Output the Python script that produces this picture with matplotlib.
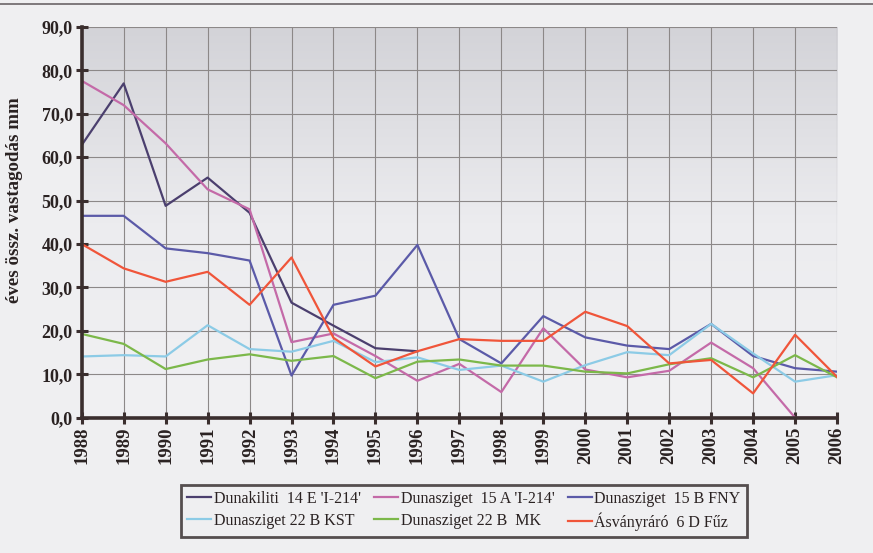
import numpy as np
import matplotlib
matplotlib.use("Agg")
import matplotlib.pyplot as plt

years = list(range(1988, 2007))
nan = np.nan

dunakiliti_14e = [62.8, 77.0, 48.8, 55.3, 47.2, 26.5, 21.2, 16.0, 15.3,
                  nan, nan, nan, nan, nan, nan, nan, nan, nan, nan]
dunasziget_15a = [77.6, 72.0, 63.2, 52.6, 48.0, 17.4, 19.4, 14.2, 8.5,
                  12.4, 5.9, 20.6, 11.1, 9.3, 10.8, 17.3, 11.4, 0.0, 0.0]
dunasziget_15b = [46.5, 46.5, 39.0, 37.9, 36.2, 9.7, 26.0, 28.1, 39.8,
                  18.1, 12.5, 23.4, 18.5, 16.6, 15.8, 21.6, 14.2, 11.4, 10.6]
dunasziget_22b_kst = [14.1, 14.4, 14.1, 21.3, 15.8, 15.2, 17.7, 12.8, 13.9,
                      11.0, 12.0, 8.3, 12.1, 15.1, 14.4, 21.6, 14.8, 8.3, 9.8]
dunasziget_22b_mk = [19.3, 17.0, 11.2, 13.4, 14.6, 13.1, 14.2, 9.1, 12.9,
                     13.4, 12.0, 12.0, 10.6, 10.2, 12.3, 13.7, 9.3, 14.4, 9.3]
asvanyraro_6d = [40.0, 34.4, 31.3, 33.6, 26.0, 36.9, 18.4, 11.8, 15.3,
                 18.1, 17.7, 17.7, 24.4, 21.1, 12.5, 13.3, 5.6, 19.1, 9.4]

series_names = ["Dunakiliti  14 E 'I-214'", "Dunasziget  15 A 'I-214'",
                "Dunasziget  15 B FNY", "Dunasziget 22 B KST",
                "Dunasziget 22 B  MK", "Ásványráró  6 D Fűz"]
series_values = [dunakiliti_14e, dunasziget_15a, dunasziget_15b,
                 dunasziget_22b_kst, dunasziget_22b_mk, asvanyraro_6d]
colors = ["#4b3f6e", "#c46aa8", "#5b5aa8", "#8ccbe6", "#7cb84a", "#f0553a"]

y_ticks = np.arange(0, 91, 10)
y_ticklabels = [f"{v:.1f}".replace(".", ",") for v in y_ticks]

plt.rcParams["font.family"] = ["Liberation Serif", "DejaVu Serif"]

fig = plt.figure(figsize=(8.73, 5.53), dpi=100)
fig.patch.set_facecolor("#efeff1")
ax = fig.add_axes([0.0936, 0.2447, 0.8652, 0.7065])
ax.set_facecolor("#ebebee")

# subtle vertical gradient in the plot area
grad = np.linspace(0, 1, 256).reshape(-1, 1)
ax.imshow(grad, extent=[0, 1, 0, 1], transform=ax.transAxes, aspect="auto",
          cmap=matplotlib.colors.LinearSegmentedColormap.from_list(
              "g", ["#f1f1f3", "#ececef", "#d3d3d8"]),
          zorder=0, origin="lower")

for name, vals, c in zip(series_names, series_values, colors):
    ax.plot(years, vals, color=c, lw=1.6, label=name, zorder=3)

ax.set_xlim(1988, 2006)
ax.set_ylim(0, 90)
ax.set_xticks(years)
ax.set_xticklabels([str(y) for y in years], rotation=90, fontsize=13.5,
                   fontweight="bold", color="#2a2222")
ax.set_yticks(y_ticks)
ax.set_yticklabels(y_ticklabels, fontsize=13, fontweight="bold", color="#2a2222")
ax.grid(True, color="#8c8888", lw=0.8, zorder=1)
ax.set_axisbelow(True)

for s in ["top", "right"]:
    ax.spines[s].set_visible(False)
for s in ["left", "bottom"]:
    ax.spines[s].set_color("#3a2e2e")
    ax.spines[s].set_linewidth(2.6)
    ax.spines[s].set_zorder(5)
ax.tick_params(axis="both", direction="inout", length=9, width=2.2,
               color="#3a2e2e", pad=2)
ax.tick_params(axis="y", pad=2)

ax.set_ylabel("éves össz. vastagodás mm", fontsize=13.6, fontweight="bold",
              color="#2a2222")
ax.yaxis.set_label_coords(-0.078, 0.556)

handles, labels = ax.get_legend_handles_labels()
order = [0, 3, 1, 4, 2, 5]
leg = fig.legend([handles[i] for i in order], [labels[i] for i in order],
                 ncol=3, loc="center",
                 bbox_to_anchor=(0.2073, 0.0289, 0.6484, 0.094), mode="expand",
                 fontsize=11.5, frameon=True, fancybox=False,
                 handlelength=1.5, handletextpad=0.15, columnspacing=1.0,
                 labelspacing=0.35, borderpad=0.4, borderaxespad=0)
leg.get_frame().set_edgecolor("#2e2626")
leg.get_frame().set_linewidth(2.0)
leg.get_frame().set_facecolor("none")
for t in leg.get_texts():
    t.set_color("#2a2222")

# page rule at top of the scan
fig.add_artist(plt.Line2D([0, 1], [0.992, 0.992], transform=fig.transFigure,
                          color="#6a6468", lw=1.2))

fig.savefig("out.png", dpi=100, facecolor=fig.get_facecolor())
